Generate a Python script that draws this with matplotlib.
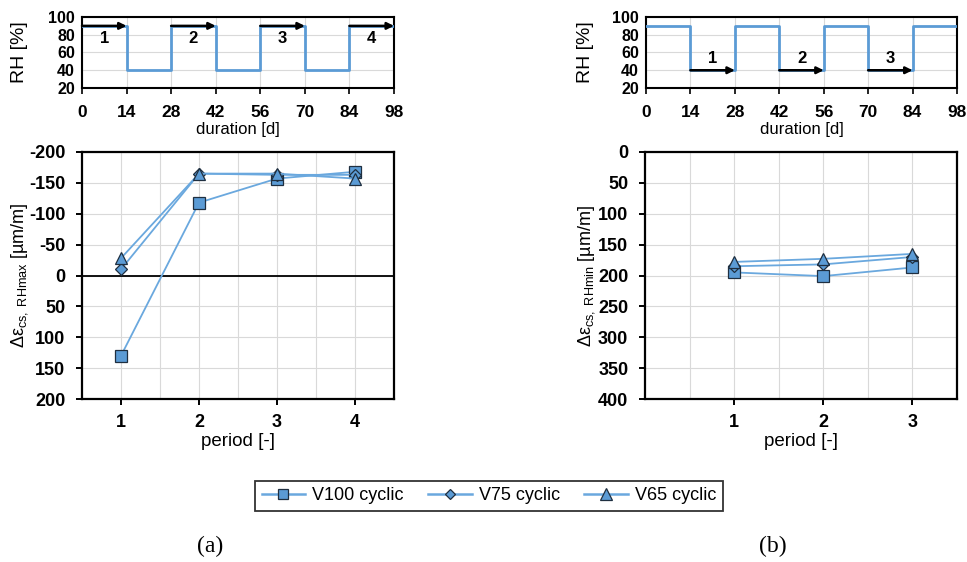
import matplotlib
matplotlib.use("Agg")
import matplotlib.pyplot as plt
from matplotlib.lines import Line2D

plt.rcParams['font.family'] = ['Liberation Sans', 'DejaVu Sans']
plt.rcParams['mathtext.fontset'] = 'custom'
plt.rcParams['mathtext.rm'] = 'Liberation Sans'
plt.rcParams['mathtext.it'] = 'Liberation Sans:italic'
plt.rcParams['mathtext.bf'] = 'Liberation Sans:bold'
plt.rcParams['axes.unicode_minus'] = False

# ---- data ----
rh_days = [0, 14, 14, 28, 28, 42, 42, 56, 56, 70, 70, 84, 84, 98]
rh_values = [90, 90, 40, 40, 90, 90, 40, 40, 90, 90, 40, 40, 90, 90]
duration_ticks = [0, 14, 28, 42, 56, 70, 84, 98]
rh_ticks = [20, 40, 60, 80, 100]

arrows_a_start = [0, 28, 56, 84]
arrows_a_labels = ['1', '2', '3', '4']
arrows_b_start = [14, 42, 70]
arrows_b_labels = ['1', '2', '3']

series_names = ['V100 cyclic', 'V75 cyclic', 'V65 cyclic']
series_markers = ['s', 'D', '^']

periods_a = [1, 2, 3, 4]
v100_a = [130, -118, -157, -168]
v75_a = [-10, -165, -163, -163]
v65_a = [-28, -165, -165, -157]

periods_b = [1, 2, 3]
v100_b = [195, 201, 187]
v75_b = [185, 182, 170]
v65_b = [178, 173, 165]

blue = '#5B9BD5'
line_blue = '#6AA8DE'
grid_c = '#D9D9D9'
edge_c = '#1F2F40'
marker_size = {'s': 8.5, 'D': 6, '^': 9}

fig = plt.figure(figsize=(9.67, 5.62), dpi=100)

W, H = 967.0, 562.0
def ax_at(x0, y0, x1, y1):
    return fig.add_axes([x0 / W, 1 - y1 / H, (x1 - x0) / W, (y1 - y0) / H])


def style_top(ax, ylab_x):
    ax.plot(rh_days, rh_values, color=blue, lw=2, zorder=3)
    ax.set_xlim(0, 98)
    ax.set_ylim(20, 100)
    ax.set_xticks(duration_ticks)
    ax.set_yticks(rh_ticks)
    ax.grid(True, color=grid_c, lw=0.8)
    ax.set_axisbelow(True)
    for lab in ax.get_xticklabels():
        lab.set_fontweight('bold')
        lab.set_fontsize(12.5)
    for lab in ax.get_yticklabels():
        lab.set_fontweight('bold')
        lab.set_fontsize(11.5)
    ax.tick_params(axis='x', length=4, width=1.2, pad=8)
    ax.tick_params(axis='y', length=0, pad=5)
    ax.set_xlabel('duration [d]', fontsize=12, labelpad=2)
    ax.set_ylabel('RH [%]', fontsize=14)
    ax.yaxis.set_label_coords(ylab_x, 0.5)
    for s in ax.spines.values():
        s.set_linewidth(1.5)

# top-left
axa = ax_at(82, 17, 394, 88)
style_top(axa, -0.172)
for st, lb in zip(arrows_a_start, arrows_a_labels):
    axa.annotate('', xy=(st + 14, 90), xytext=(st, 90),
                 arrowprops=dict(arrowstyle='-|>', color='black', lw=1.8,
                                 mutation_scale=10, shrinkA=0, shrinkB=0), zorder=4)
    axa.text(st + 7, 76, lb, ha='center', va='center', fontsize=12, fontweight='bold')

# top-right
axb = ax_at(646, 17, 957, 88)
style_top(axb, -0.167)
for st, lb in zip(arrows_b_start, arrows_b_labels):
    axb.annotate('', xy=(st + 14, 40), xytext=(st, 40),
                 arrowprops=dict(arrowstyle='-|>', color='black', lw=1.8,
                                 mutation_scale=10, shrinkA=0, shrinkB=0), zorder=4)
    axb.text(st + 7, 53, lb, ha='center', va='center', fontsize=12, fontweight='bold')


def style_bottom(ax, xlim, xticks, ylim, yticks, ylabel, ylab_x):
    ax.set_xlim(*xlim)
    ax.set_ylim(*ylim)
    ax.set_xticks(xticks)
    ax.set_yticks(yticks)
    grid_x = [v / 2 for v in range(int(xlim[0] * 2) + 1, int(xlim[1] * 2))]
    for gx in grid_x:
        ax.axvline(gx, color=grid_c, lw=0.8, zorder=0)
    for gy in yticks:
        ax.axhline(gy, color=grid_c, lw=0.8, zorder=0)
    for lab in ax.get_xticklabels() + ax.get_yticklabels():
        lab.set_fontweight('bold')
        lab.set_fontsize(13)
    ax.tick_params(axis='x', length=4, width=1.4, pad=7)
    ax.tick_params(axis='y', length=4, width=1.4, pad=8)
    ax.set_xlabel('period [-]', fontsize=13.5, labelpad=1)
    ax.set_ylabel(ylabel, fontsize=13)
    ax.yaxis.set_label_coords(ylab_x, 0.5)
    for s in ax.spines.values():
        s.set_linewidth(1.6)


def plot_series(ax, x, series):
    for vals, m in zip(series, series_markers):
        ax.plot(x, vals, color=line_blue, lw=1.3, marker=m, ms=marker_size[m],
                markerfacecolor=blue, markeredgecolor=edge_c, markeredgewidth=0.9,
                zorder=3)


# bottom-left
axc = ax_at(82, 152, 394, 399)
style_bottom(axc, (0.5, 4.5), periods_a, (200, -200), list(range(-200, 201, 50)),
             'Δε$_\\mathregular{cs,\\ RHmax}$ [µm/m]', -0.168)
axc.axhline(0, color='black', lw=1.3, zorder=1)
plot_series(axc, periods_a, [v100_a, v75_a, v65_a])

# bottom-right
axd = ax_at(645, 152, 957, 399)
style_bottom(axd, (0, 3.5), periods_b, (400, 0), list(range(0, 401, 50)),
             'Δε$_\\mathregular{cs,\\ RHmin}$ [µm/m]', -0.154)
plot_series(axd, periods_b, [v100_b, v75_b, v65_b])

# legend
handles = []
for name, m in zip(series_names, series_markers):
    handles.append(Line2D([], [], color=line_blue, lw=1.8, marker=m,
                          ms=marker_size[m] - 1, markerfacecolor=blue,
                          markeredgecolor=edge_c, markeredgewidth=0.9, label=name))
leg = fig.legend(handles=handles, loc='center', bbox_to_anchor=(489 / W, 1 - 496 / H),
                 ncol=3, frameon=True, fancybox=False, fontsize=13, handlelength=2.4,
                 columnspacing=1.35, handletextpad=0.4, borderpad=0.35,
                 borderaxespad=0, edgecolor='black')
leg.get_frame().set_linewidth(1.3)

# panel labels
fig.text(210 / W, 1 - 546 / H, '(a)', ha='center', va='center', fontsize=17,
         family='Liberation Serif')
fig.text(773 / W, 1 - 546 / H, '(b)', ha='center', va='center', fontsize=17,
         family='Liberation Serif')

fig.savefig('out.png', dpi=100)
